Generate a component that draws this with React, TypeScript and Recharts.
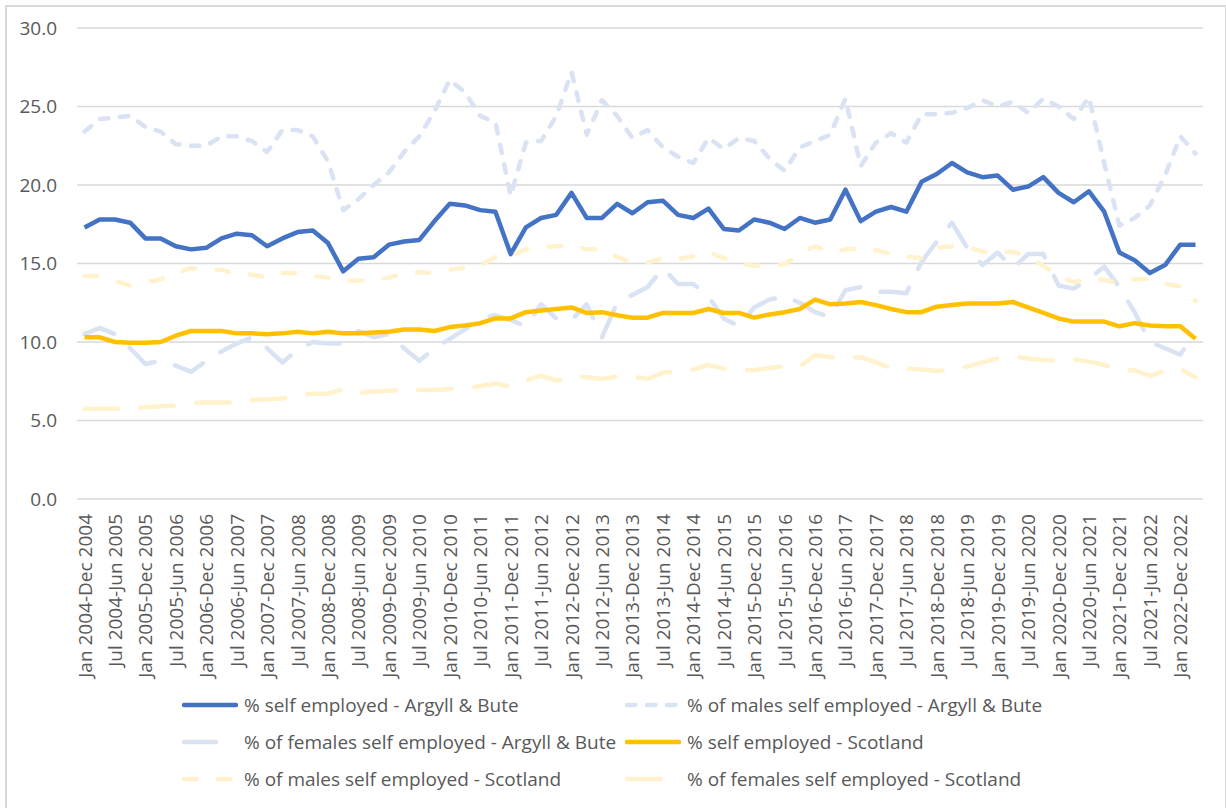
import React from "react";
import { LineChart, Line, XAxis, YAxis, CartesianGrid, Legend } from "recharts";

const FONT = '"Open Sans", "Noto Sans", sans-serif';
const TEXT = "#595959";

// rolling 12-month periods, one per quarter
const periods = [
  "Jan 2004-Dec 2004", "Apr 2004-Mar 2005", "Jul 2004-Jun 2005", "Oct 2004-Sep 2005",
  "Jan 2005-Dec 2005", "Apr 2005-Mar 2006", "Jul 2005-Jun 2006", "Oct 2005-Sep 2006",
  "Jan 2006-Dec 2006", "Apr 2006-Mar 2007", "Jul 2006-Jun 2007", "Oct 2006-Sep 2007",
  "Jan 2007-Dec 2007", "Apr 2007-Mar 2008", "Jul 2007-Jun 2008", "Oct 2007-Sep 2008",
  "Jan 2008-Dec 2008", "Apr 2008-Mar 2009", "Jul 2008-Jun 2009", "Oct 2008-Sep 2009",
  "Jan 2009-Dec 2009", "Apr 2009-Mar 2010", "Jul 2009-Jun 2010", "Oct 2009-Sep 2010",
  "Jan 2010-Dec 2010", "Apr 2010-Mar 2011", "Jul 2010-Jun 2011", "Oct 2010-Sep 2011",
  "Jan 2011-Dec 2011", "Apr 2011-Mar 2012", "Jul 2011-Jun 2012", "Oct 2011-Sep 2012",
  "Jan 2012-Dec 2012", "Apr 2012-Mar 2013", "Jul 2012-Jun 2013", "Oct 2012-Sep 2013",
  "Jan 2013-Dec 2013", "Apr 2013-Mar 2014", "Jul 2013-Jun 2014", "Oct 2013-Sep 2014",
  "Jan 2014-Dec 2014", "Apr 2014-Mar 2015", "Jul 2014-Jun 2015", "Oct 2014-Sep 2015",
  "Jan 2015-Dec 2015", "Apr 2015-Mar 2016", "Jul 2015-Jun 2016", "Oct 2015-Sep 2016",
  "Jan 2016-Dec 2016", "Apr 2016-Mar 2017", "Jul 2016-Jun 2017", "Oct 2016-Sep 2017",
  "Jan 2017-Dec 2017", "Apr 2017-Mar 2018", "Jul 2017-Jun 2018", "Oct 2017-Sep 2018",
  "Jan 2018-Dec 2018", "Apr 2018-Mar 2019", "Jul 2018-Jun 2019", "Oct 2018-Sep 2019",
  "Jan 2019-Dec 2019", "Apr 2019-Mar 2020", "Jul 2019-Jun 2020", "Oct 2019-Sep 2020",
  "Jan 2020-Dec 2020", "Apr 2020-Mar 2021", "Jul 2020-Jun 2021", "Oct 2020-Sep 2021",
  "Jan 2021-Dec 2021", "Apr 2021-Mar 2022", "Jul 2021-Jun 2022", "Oct 2021-Sep 2022",
  "Jan 2022-Dec 2022", "Apr 2022-Mar 2023",
];

const selfArgyll = [
  17.3, 17.8, 17.8, 17.6, 16.6, 16.6, 16.1, 15.9, 16.0, 16.6, 16.9, 16.8, 16.1, 16.6, 17.0, 17.1,
  16.3, 14.5, 15.3, 15.4, 16.2, 16.4, 16.5, 17.7, 18.8, 18.7, 18.4, 18.3, 15.6, 17.3, 17.9, 18.1,
  19.5, 17.9, 17.9, 18.8, 18.2, 18.9, 19.0, 18.1, 17.9, 18.5, 17.2, 17.1, 17.8, 17.6, 17.2, 17.9,
  17.6, 17.8, 19.7, 17.7, 18.3, 18.6, 18.3, 20.2, 20.7, 21.4, 20.8, 20.5, 20.6, 19.7, 19.9, 20.5,
  19.5, 18.9, 19.6, 18.3, 15.7, 15.2, 14.4, 14.9, 16.2, 16.2,
];

const malesArgyll = [
  23.4, 24.2, 24.3, 24.4, 23.7, 23.4, 22.6, 22.5, 22.5, 23.1, 23.1, 22.8, 22.1, 23.5, 23.5, 23.1,
  21.5, 18.4, 19.1, 20.0, 20.8, 22.1, 23.1, 24.7, 26.7, 25.9, 24.4, 24.0, 19.3, 22.7, 22.8, 24.4,
  27.2, 23.2, 25.4, 24.4, 23.0, 23.5, 22.4, 21.8, 21.4, 23.0, 22.3, 23.0, 22.8, 21.7, 20.9, 22.4,
  22.8, 23.2, 25.5, 21.2, 22.7, 23.3, 22.7, 24.5, 24.5, 24.6, 24.9, 25.4, 25.0, 25.3, 24.6, 25.5,
  25.0, 24.2, 25.6, 21.4, 17.4, 17.9, 18.7, 20.6, 23.1, 22.0,
];

const femalesArgyll = [
  10.5, 10.9, 10.5, 9.6, 8.6, 8.8, 8.5, 8.1, 8.8, 9.4, 9.9, 10.3, 9.6, 8.7, 9.5, 10.0,
  9.9, 9.9, 10.7, 10.3, 10.5, 9.6, 8.8, 9.6, 10.2, 10.8, 11.5, 11.7, 11.4, 11.0, 12.4, 11.5,
  11.4, 12.4, 10.3, 12.5, 13.0, 13.5, 14.7, 13.7, 13.7, 12.9, 11.5, 11.0, 12.2, 12.7, 12.9, 12.5,
  11.9, 11.6, 13.3, 13.5, 13.2, 13.2, 13.1, 15.1, 16.4, 17.6, 16.0, 14.9, 15.7, 14.7, 15.6, 15.6,
  13.6, 13.4, 14.0, 14.8, 13.5, 11.9, 10.0, 9.6, 9.2, 10.6,
];

const selfScotland = [
  10.3, 10.3, 10.0, 9.95, 9.95, 10.0, 10.4, 10.7, 10.7, 10.7, 10.55, 10.55, 10.5, 10.55, 10.65, 10.55,
  10.65, 10.55, 10.55, 10.6, 10.65, 10.8, 10.8, 10.7, 10.95, 11.05, 11.2, 11.5, 11.5, 11.9, 12.0, 12.1,
  12.2, 11.85, 11.9, 11.7, 11.55, 11.55, 11.85, 11.85, 11.85, 12.1, 11.85, 11.85, 11.55, 11.75, 11.9, 12.1,
  12.7, 12.4, 12.45, 12.55, 12.35, 12.1, 11.9, 11.9, 12.25, 12.35, 12.45, 12.45, 12.45, 12.55, 12.2, 11.85,
  11.5, 11.3, 11.3, 11.3, 11.0, 11.2, 11.05, 11.0, 11.0, 10.2,
];

const malesScotland = [
  14.2, 14.2, 13.9, 13.6, 13.8, 14.0, 14.4, 14.7, 14.6, 14.6, 14.3, 14.3, 14.1, 14.4, 14.4, 14.2,
  14.1, 13.9, 13.9, 13.95, 14.1, 14.4, 14.45, 14.4, 14.6, 14.75, 14.9, 15.4, 15.5, 15.9, 16.0, 16.1,
  16.15, 15.9, 15.9, 15.4, 15.05, 15.05, 15.35, 15.3, 15.45, 15.7, 15.35, 15.0, 14.85, 14.9, 14.95, 15.6,
  16.1, 15.7, 15.9, 15.95, 15.85, 15.6, 15.45, 15.35, 16.0, 16.1, 16.05, 15.75, 15.7, 15.75, 15.45, 14.85,
  14.2, 13.8, 14.05, 13.95, 13.75, 14.0, 14.0, 13.7, 13.55, 12.6,
];

const femalesScotland = [
  5.75, 5.75, 5.75, 5.75, 5.85, 5.9, 5.95, 6.1, 6.15, 6.15, 6.15, 6.3, 6.35, 6.4, 6.6, 6.7,
  6.7, 7.0, 6.75, 6.85, 6.9, 6.95, 6.95, 6.95, 7.0, 7.05, 7.2, 7.35, 7.15, 7.55, 7.85, 7.55,
  7.8, 7.75, 7.65, 7.8, 7.8, 7.65, 8.05, 8.1, 8.25, 8.55, 8.3, 8.25, 8.2, 8.35, 8.45, 8.45,
  9.15, 9.05, 8.95, 9.05, 8.7, 8.35, 8.3, 8.25, 8.15, 8.25, 8.45, 8.7, 8.95, 9.1, 8.95, 8.85,
  8.8, 8.9, 8.75, 8.55, 8.2, 8.2, 7.85, 8.15, 8.3, 7.75,
];

const yTicks = [0, 5, 10, 15, 20, 25, 30];

type Series = {
  key: string;
  name: string;
  values: number[];
  color: string;
  dash?: string;
};

// legend reads left-to-right, row by row, same as drawing order
const series: Series[] = [
  { key: "selfArgyll", name: "% self employed - Argyll & Bute", values: selfArgyll, color: "#4472C4" },
  { key: "malesArgyll", name: "% of males self employed - Argyll & Bute", values: malesArgyll, color: "#DAE3F3", dash: "8.5 11.5" },
  { key: "femalesArgyll", name: "% of females self employed - Argyll & Bute", values: femalesArgyll, color: "#DAE3F3", dash: "32 21" },
  { key: "selfScotland", name: "% self employed - Scotland", values: selfScotland, color: "#FFC000" },
  { key: "malesScotland", name: "% of males self employed - Scotland", values: malesScotland, color: "#FFF2CC", dash: "12.5 21.5" },
  { key: "femalesScotland", name: "% of females self employed - Scotland", values: femalesScotland, color: "#FFF2CC", dash: "33.5 22.5" },
];

const data = periods.map((period, i) => {
  const row: Record<string, string | number> = { period };
  series.forEach((s) => {
    row[s.key] = s.values[i];
  });
  return row;
});

function PeriodTick({ x, y, payload }: any) {
  return (
    <text
      x={x}
      y={y}
      transform={`rotate(-90, ${x}, ${y})`}
      textAnchor="end"
      dominantBaseline="central"
      fill={TEXT}
      fontSize={19}
      fontFamily={FONT}
    >
      {payload.value}
    </text>
  );
}

function LegendGrid() {
  return (
    <div
      style={{
        display: "grid",
        gridTemplateColumns: "443px 443px",
        gridAutoRows: "37px",
        fontFamily: FONT,
        fontSize: 19,
        color: TEXT,
      }}
    >
      {series.map((s) => (
        <div key={s.key} style={{ display: "flex", alignItems: "center", whiteSpace: "nowrap" }}>
          <svg width={56} height={10} style={{ marginRight: 6, flex: "none" }}>
            <line
              x1={2}
              y1={5}
              x2={54}
              y2={5}
              stroke={s.color}
              strokeWidth={4.5}
              strokeDasharray={s.dash}
              strokeLinecap="round"
            />
          </svg>
          <span>{s.name}</span>
        </div>
      ))}
    </div>
  );
}

export default function App() {
  return (
    <div
      style={{
        position: "absolute",
        left: 0,
        top: 0,
        width: 1226,
        height: 808,
        overflow: "hidden",
        background: "#fff",
      }}
    >
      <div
        style={{
          position: "absolute",
          left: 5,
          top: 5,
          width: 1218,
          height: 830,
          border: "2px solid #D9D9D9",
        }}
      />
      <div style={{ position: "absolute", left: 0, top: 0 }}>
        <LineChart
          width={1226}
          height={808}
          data={data}
          margin={{ top: 28, right: 23, bottom: 119, left: 0 }}
        >
          <CartesianGrid vertical={false} stroke="#D9D9D9" strokeWidth={1.3} />
          <XAxis
            dataKey="period"
            interval={1}
            height={190}
            padding={{ left: 7.5, right: 7.5 }}
            axisLine={false}
            tickLine={false}
            tickSize={0}
            tickMargin={15}
            tick={<PeriodTick />}
          />
          <YAxis
            domain={[0, 30]}
            ticks={yTicks}
            width={77}
            axisLine={false}
            tickLine={false}
            tickSize={0}
            tickMargin={20}
            tickFormatter={(v: number) => v.toFixed(1)}
            tick={{ fill: TEXT, fontSize: 19, fontFamily: FONT }}
          />
          {series.map((s) => (
            <Line
              key={s.key}
              type="linear"
              dataKey={s.key}
              name={s.name}
              stroke={s.color}
              strokeWidth={4.5}
              strokeDasharray={s.dash}
              strokeLinecap={s.dash ? "round" : "butt"}
              strokeLinejoin="round"
              dot={false}
              activeDot={false}
              isAnimationActive={false}
            />
          ))}
          <Legend
            layout="horizontal"
            verticalAlign="middle"
            align="center"
            wrapperStyle={{ left: 182, top: 686, width: 900 }}
            content={() => <LegendGrid />}
          />
        </LineChart>
      </div>
    </div>
  );
}
